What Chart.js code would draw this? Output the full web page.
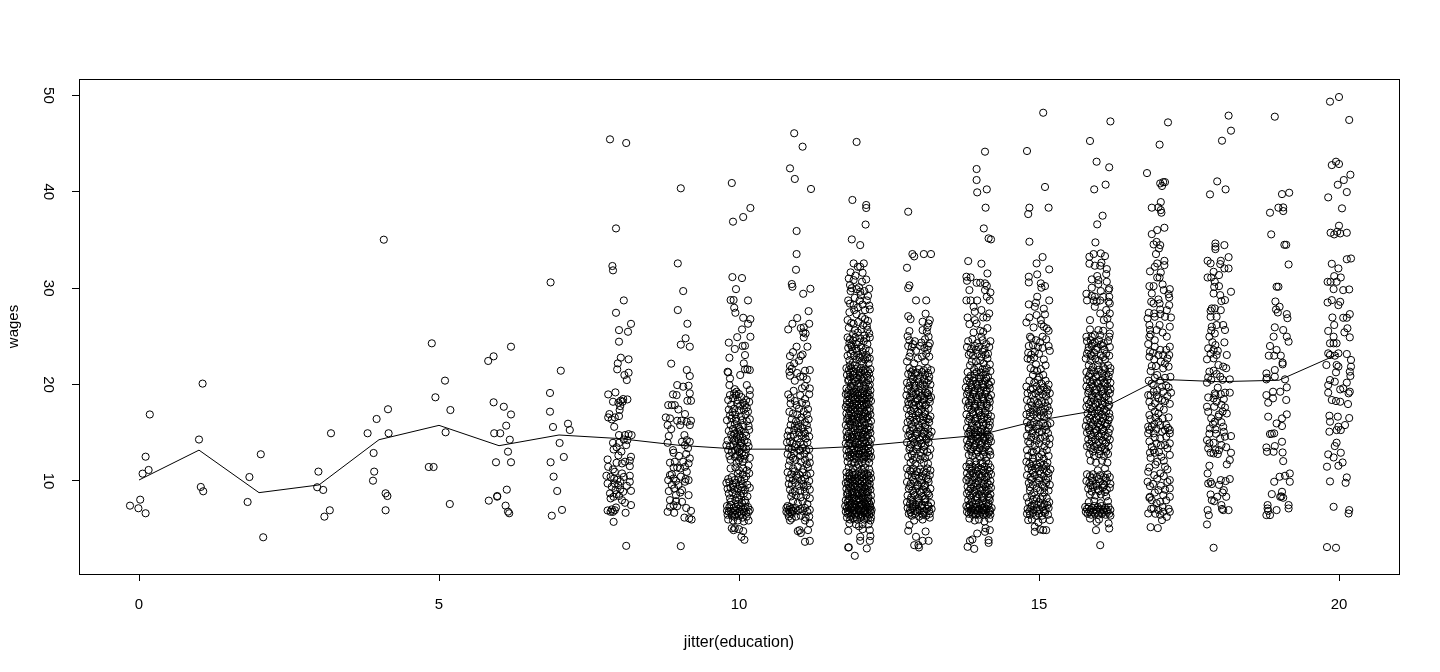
<!DOCTYPE html>
<html>
<head>
<meta charset="utf-8">
<style>
  html, body { margin: 0; padding: 0; background: #fff; }
  canvas { display: block; }
</style>
<script src="https://cdn.jsdelivr.net/npm/chart.js@4"></script>
</head>
<body>
<canvas id="wagesChart" width="1440" height="672"></canvas>
<script>
// jitter(education), wages pairs, one array per education year
const eduLow = [-0.15,7.44, -0.01,7.17, 0.02,8.06, 0.11,6.65, 0.06,10.76, 0.16,11.14, 0.11,12.52, 0.18,16.9,
  1.06,20.1, 1.0,14.3, 1.03,9.38, 1.07,8.93,
  2.03,12.77, 1.84,10.41, 1.81,7.82, 2.07,4.16,
  3.2,14.95, 2.99,10.97, 2.97,9.35, 3.07,9.07, 3.18,6.96, 3.09,6.3,
  4.08,35.03, 4.15,17.44, 3.96,16.43, 3.81,14.95, 4.16,14.95, 3.91,12.9, 3.92,10.97, 3.9,10.03, 4.11,8.72, 4.14,8.44, 4.11,6.96,
  4.88,24.28, 5.1,20.41, 4.94,18.68, 5.19,17.36, 5.11,15.05, 4.83,11.45, 4.91,11.45, 5.18,7.61,
  6.2,23.93, 5.91,22.93, 5.82,22.45, 5.91,18.16, 6.08,17.7, 6.2,16.9, 6.12,15.74, 5.92,14.95, 6.02,14.95, 6.18,14.28, 6.15,13.04, 5.95,11.94, 6.2,11.94, 6.13,9.1, 5.97,8.37, 5.97,8.44, 5.83,7.96, 6.11,7.44, 6.15,6.82, 6.17,6.65,
  6.86,30.6, 7.03,21.44, 6.85,19.13, 6.85,17.19, 7.15,15.94, 6.9,15.6, 7.18,15.29, 7.01,13.94, 7.08,12.49, 6.86,11.94, 6.91,10.45, 6.97,8.96, 7.05,7.0, 6.88,6.4]

const edu8 = [7.85,45.44, 8.12,45.06, 7.95,36.2, 7.89,32.3, 7.9,31.85, 8.08,28.73, 7.95,27.45, 8.2,26.3, 8.0,25.65, 8.15,25.48, 8.0,24.45, 8.03,22.79, 8.16,22.62, 7.98,22.2, 7.97,21.58, 8.16,21.23, 8.09,20.99, 8.13,20.47,
  7.82,18.98, 7.94,19.19, 7.9,18.22, 8.14,18.46, 8.07,18.5, 8.03,18.33, 7.99,18.12, 8.06,18.22, 8.02,17.77, 8.01,17.36, 7.84,16.94, 8.0,16.73, 7.82,16.59, 7.88,16.39, 7.93,16.59, 7.92,15.62, 8.0,14.76, 8.16,14.86, 8.21,14.76, 8.1,14.76, 7.9,13.96, 8.0,13.96, 8.12,13.72, 8.14,14.24, 7.91,13.27,
  7.81,12.23, 7.99,12.65, 8.2,12.51, 8.18,12.1, 7.96,11.89, 8.05,11.82, 7.82,11.47, 8.18,11.54, 7.93,10.95, 8.05,10.78, 8.18,10.54, 7.79,10.54, 7.86,10.43, 7.92,10.26, 8.18,9.92, 7.81,9.74, 7.93,9.74, 7.99,9.57, 7.88,9.4, 8.02,9.12, 8.2,8.98, 8.07,8.88, 7.85,8.71, 7.96,8.64, 7.86,8.19, 7.91,8.36, 8.05,8.01, 8.1,7.74, 8.2,7.5, 7.81,6.94, 7.9,6.8, 7.93,6.97, 7.86,6.8, 8.11,6.7, 7.91,5.76, 8.12,3.27,
  8.02,9.95, 7.97,10.12, 8.08,10.42, 7.9,11.2, 8.1,12.0, 8.04,13.05, 7.96,13.5, 8.08,14.3, 7.94,9.05, 8.0,8.45, 8.13,9.5, 7.88,7.05, 7.95,7.25]

const edu9 = [9.03,40.36, 8.98,32.57, 9.07,29.7, 8.98,27.73, 9.14,26.31, 9.11,24.8, 9.03,24.14, 9.18,23.93, 8.87,22.17, 9.13,21.51, 9.18,20.89, 8.97,19.95, 9.07,19.78, 9.16,19.88, 9.18,19.09, 8.9,18.98, 8.96,18.91, 9.14,18.32, 9.2,18.32, 8.82,17.87, 8.88,17.87, 8.93,17.87, 8.99,17.42, 9.1,16.94, 8.78,16.59, 8.85,16.49, 8.97,16.25, 9.04,16.25, 9.13,16.14, 9.2,16.25, 8.81,15.8, 9.18,15.8, 9.02,15.8, 8.87,15.38, 8.83,14.66, 9.09,14.76, 9.05,14.07, 9.13,14.24, 9.18,14.07, 8.81,13.96, 9.1,13.72, 8.9,13.2, 8.91,12.93, 9.18,12.34, 8.93,11.99, 9.07,11.99, 9.16,11.82, 8.91,11.4, 8.97,11.4, 9.02,11.3, 9.1,11.47, 8.85,10.61, 9.13,10.95, 8.82,10.09, 8.91,10.26, 9.1,9.92, 9.16,10.09, 8.99,9.57, 8.83,8.95, 8.92,9.22, 9.05,9.05, 9.16,8.53, 8.95,8.53, 8.85,8.01, 9.05,7.84, 8.91,7.49, 8.97,7.39, 8.85,7.32, 8.81,6.8, 8.92,6.7, 9.2,6.9, 9.09,6.2, 9.17,6.11, 9.21,6.0, 9.03,3.24,
  8.88,10.7, 8.95,10.0, 9.03,10.45, 9.11,10.2, 8.88,9.6, 9.02,8.8, 8.95,7.9, 9.12,7.2, 9.15,13.4, 9.0,12.6, 9.12,12.8, 8.85,11.9]

const edu10 = [9.88,40.91, 10.19,38.32, 10.07,37.38, 9.9,36.9, 9.89,31.15, 10.05,31.05, 9.95,29.9, 9.86,28.77, 9.91,28.77, 10.15,28.73, 9.92,27.97, 9.94,27.45, 10.07,26.93, 10.19,26.79, 10.15,26.31, 10.05,25.72, 9.97,24.92, 10.19,24.96, 9.83,24.35, 9.93,23.69, 10.1,24.03, 10.06,24.0, 9.84,22.79, 10.1,23.06, 10.08,22.2, 10.14,21.58, 10.18,21.51, 10.1,21.58, 10.02,20.99, 9.81,21.33, 9.82,21.27, 9.85,20.64, 9.84,19.95, 10.13,19.95, 10.18,19.43, 9.96,19.26, 9.92,19.09, 10.0,19.02, 9.85,18.91, 10.18,18.91,
  9.82,18.4, 9.9,18.6, 9.95,18.9, 10.04,18.7, 10.12,18.4, 10.17,18.2, 9.87,17.9, 9.97,18.0, 10.02,17.8, 10.1,17.9, 9.83,17.4, 9.92,17.5, 10.0,17.3, 10.08,17.4, 10.15,17.2, 9.85,16.8, 9.94,16.9, 10.03,16.7, 10.11,16.9, 10.18,16.4, 9.8,16.3, 9.88,16.5, 9.96,16.2, 10.05,16.3, 10.13,16.2, 9.86,15.8, 9.93,15.9, 9.99,15.6, 10.07,15.8, 10.16,15.7, 9.83,15.2, 9.9,15.4, 9.97,15.1, 10.03,15.2, 10.1,15.0, 10.17,15.3,
  9.87,14.8, 9.92,14.9, 9.96,14.6, 10.01,14.8, 10.06,14.5, 10.12,14.7, 9.81,14.2, 9.89,14.4, 9.94,14.1, 9.99,14.3, 10.04,14.0, 10.09,14.2, 10.14,14.0, 9.79,13.7, 9.85,13.6, 9.91,13.8, 9.97,13.5, 10.02,13.7, 10.07,13.5, 10.12,13.3, 10.16,13.6, 9.82,13.2, 9.88,13.0, 9.94,13.2, 10.0,13.0, 10.05,12.9, 10.11,12.8, 9.84,12.6, 9.93,12.5, 10.02,12.4, 9.97,12.7, 10.09,12.3, 10.18,12.4, 9.86,12.2, 9.96,11.9, 10.06,12.0,
  10.16,11.6, 9.86,11.3, 9.94,11.4, 10.0,11.1, 10.07,11.3, 10.13,11.1, 9.98,10.8, 10.06,10.7, 10.12,10.5, 10.17,10.8, 9.82,10.2, 9.88,10.4, 9.93,10.1, 9.99,10.3, 10.03,10.0, 10.09,10.2, 9.79,9.8, 9.84,9.9, 9.9,9.6, 9.95,9.8, 10.01,9.5, 10.06,9.7, 10.14,9.6, 9.81,9.2, 9.86,9.3, 9.92,9.1, 9.98,9.2, 10.04,9.0, 10.1,9.1, 10.18,9.3, 9.83,8.7, 9.89,8.8, 9.95,8.6, 10.02,8.5, 10.08,8.7, 10.14,8.4, 9.85,8.2, 9.94,8.0, 10.0,8.1, 10.1,8.0, 9.98,7.6, 10.05,7.7,
  9.8,7.4, 9.84,7.3, 9.87,7.5, 9.91,7.2, 9.95,7.3, 9.99,7.1, 10.03,7.3, 10.07,7.1, 10.11,7.2, 10.15,7.3, 10.18,7.0, 9.8,6.9, 9.83,6.8, 9.86,6.9, 9.89,6.7, 9.93,6.9, 9.97,6.7, 10.01,6.8, 10.04,6.6, 10.08,6.8, 10.12,6.7, 10.16,6.8, 9.81,6.5, 9.88,6.4, 9.94,6.5, 10.0,6.4, 10.06,6.2, 10.13,6.3, 9.82,6.0, 9.9,5.9, 9.98,5.9, 10.08,5.8, 10.16,5.9, 9.88,5.1, 9.91,4.9, 9.93,5.1, 10.0,5.0, 10.07,4.8, 10.04,4.2, 10.09,3.9,
  9.93,19.52, 9.98,18.37, 10.07,18.13, 9.89,17.13, 10.13,17.62, 9.95,16.45, 10.01,15.38, 9.92,14.27, 10.03,13.92, 9.98,13.28, 10.09,12.63, 10.0,12.14, 9.9,9.42, 10.05,9.33, 9.97,8.27, 10.11,7.76, 9.86,7.83, 9.93,6.28]

const edu11 = [10.92,46.07, 11.06,44.68, 10.85,42.43, 10.93,41.33, 11.2,40.29, 10.96,35.93, 10.96,33.54, 10.95,31.91, 10.88,30.43, 10.89,30.15, 11.19,29.94, 11.07,29.42, 11.16,27.62, 10.97,26.9, 10.89,26.31, 11.17,26.31, 10.82,25.72, 11.03,25.86, 11.08,25.93, 11.07,25.41, 11.11,25.3, 11.08,24.89, 10.96,23.93, 11.14,23.93, 10.85,22.96, 11.03,22.96, 10.92,22.2, 10.85,21.92, 10.84,21.33, 11.1,21.44, 11.18,21.51, 10.85,20.92, 11.02,20.82, 11.07,20.82, 10.93,20.4, 11.1,19.85, 11.18,19.6, 10.82,18.98, 10.96,17.87, 11.12,17.98, 10.84,17.18,
  10.86,18.6, 11.02,18.9, 11.1,18.5, 11.17,19.0, 10.93,18.3, 11.05,18.1, 11.0,17.5, 11.08,17.2, 10.9,17.0, 10.97,16.9, 11.04,16.6, 11.13,16.9, 10.88,16.4, 10.95,16.2, 11.02,16.3, 11.1,16.1, 11.16,16.4, 10.86,15.8, 10.93,15.7, 10.99,15.8, 11.06,15.5, 11.13,15.8, 10.83,15.2, 10.92,15.3, 11.0,15.0, 11.08,15.1, 11.15,15.3, 10.81,14.7, 10.86,14.6, 10.91,14.8, 10.98,14.4, 11.04,14.7, 11.11,14.4, 11.17,14.6, 10.8,14.0, 10.85,14.1, 10.89,13.9, 10.95,13.8, 11.02,14.0, 11.08,13.8, 11.14,14.0, 10.83,13.4, 10.88,13.3, 10.93,13.5, 11.0,13.2, 11.06,13.4, 11.12,13.2, 11.17,13.3, 10.81,12.8, 10.87,12.6, 10.92,12.9, 11.02,12.6, 11.09,12.8, 11.17,12.5, 10.85,12.1, 10.94,12.2, 11.03,12.0, 11.1,12.2, 11.18,11.9,
  10.83,11.6, 10.9,11.3, 10.98,11.5, 11.07,11.2, 11.15,11.4, 10.81,10.9, 10.87,10.7, 10.93,11.0, 11.0,10.7, 11.06,10.9, 11.13,10.6, 11.19,10.8, 10.84,10.3, 10.9,10.1, 10.97,10.3, 11.04,10.1, 11.1,10.2, 11.17,10.0, 10.83,9.7, 10.88,9.6, 10.94,9.8, 11.0,9.5, 11.07,9.7, 11.14,9.5, 10.85,9.1, 10.93,8.9, 11.02,9.0, 11.1,8.9, 11.18,9.1, 10.87,8.4, 10.95,8.5, 11.03,8.3, 11.12,8.5, 11.18,8.2, 10.9,7.9, 10.98,7.7, 11.06,7.9, 11.14,7.6,
  10.79,7.2, 10.81,7.4, 10.83,7.0, 10.85,7.3, 10.87,7.1, 10.89,6.9, 10.79,6.8, 10.82,6.6, 10.85,6.8, 10.88,6.6, 10.91,6.9, 10.94,7.2, 10.98,6.9, 11.02,7.1, 11.06,6.9, 11.1,7.2, 11.14,6.8, 11.18,7.0, 10.83,6.3, 10.88,6.1, 10.95,6.3, 11.03,6.4, 11.11,6.2, 11.17,6.3, 11.18,5.6, 11.1,5.9, 10.85,5.9, 11.15,4.9, 11.01,4.9, 11.03,4.6, 10.98,4.8, 11.1,3.69, 11.18,3.79,
  10.9,23.37, 11.06,23.12, 11.0,22.48, 10.88,21.65, 10.97,21.2, 11.13,20.55, 11.05,19.62, 10.91,19.35, 10.86,18.03, 11.15,17.45, 10.98,15.47, 11.1,14.92, 11.02,13.13, 10.9,12.38, 11.13,11.73, 10.96,10.55, 11.08,9.37, 10.89,8.76]

const edu12 = [11.96,45.17, 11.89,39.15, 12.12,38.63, 12.12,38.32, 12.11,36.6, 11.88,35.06, 12.02,34.47, 11.91,32.57, 12.08,32.57, 11.98,32.22, 12.02,32.22, 11.86,31.64, 11.91,30.84, 12.05,30.67, 11.85,30.32, 12.17,29.94, 11.86,29.7, 11.96,29.9, 12.02,29.63, 12.03,29.28, 11.82,28.73, 12.01,28.73, 12.13,28.73, 11.91,28.25, 11.92,27.73, 12.1,27.73, 12.18,27.8, 11.81,26.69, 12.1,26.79, 11.91,26.31, 12.07,26.17, 11.93,25.65, 12.04,25.72, 12.17,25.3, 11.81,24.89, 12.02,24.79, 12.18,24.89,
  11.84,24.3, 11.9,24.6, 11.96,24.2, 12.08,24.5, 12.14,24.2, 11.82,23.8, 11.88,23.9, 11.97,23.5, 12.03,23.9, 12.11,23.7, 12.17,23.5, 11.81,23.0, 11.86,23.2, 11.92,23.0, 11.99,23.1, 12.06,22.9, 12.12,23.1, 11.84,22.5, 11.9,22.3, 11.96,22.6, 12.04,22.4, 12.1,22.6, 12.16,22.2,
  11.79,21.7, 11.83,21.5, 11.87,21.7, 11.91,21.4, 11.95,21.6, 11.99,21.4, 12.03,21.7, 12.07,21.5, 12.11,21.6, 12.15,21.4, 12.19,21.6, 11.8,21.0, 11.85,20.8, 11.9,21.0, 11.96,20.7, 12.02,20.9, 12.08,20.7, 12.14,20.9, 12.19,20.6, 11.82,20.4, 11.88,20.2, 11.94,20.3, 12.0,20.1, 12.06,20.4, 12.12,20.2, 12.18,20.0,
  11.79,19.6, 11.83,19.4, 11.87,19.7, 11.91,19.3, 11.95,19.5, 11.99,19.2, 12.03,19.5, 12.07,19.3, 12.11,19.6, 12.15,19.2, 12.19,19.4, 11.78,19.0, 11.82,18.8, 11.86,19.0, 11.9,18.7, 11.94,18.9, 11.98,18.6, 12.02,18.9, 12.06,18.6, 12.1,18.9, 12.14,18.7, 12.18,18.9, 11.8,18.3, 11.84,18.1, 11.88,18.4, 11.92,18.0, 11.96,18.2, 12.0,18.0, 12.04,18.3, 12.08,18.0, 12.12,18.2, 12.16,18.0, 12.2,18.3,
  11.78,17.7, 11.82,17.5, 11.86,17.7, 11.9,17.4, 11.94,17.6, 11.98,17.3, 12.02,17.6, 12.06,17.4, 12.1,17.7, 12.14,17.3, 12.18,17.5, 11.79,17.0, 11.83,16.8, 11.87,17.0, 11.91,16.7, 11.95,16.9, 11.99,16.6, 12.03,16.9, 12.07,16.7, 12.11,17.0, 12.15,16.7, 12.19,16.9, 11.8,16.4, 11.84,16.2, 11.88,16.4, 11.92,16.1, 11.96,16.3, 12.0,16.0, 12.04,16.3, 12.08,16.1, 12.12,16.4, 12.16,16.0, 12.2,16.2,
  11.78,15.8, 11.82,15.6, 11.86,15.8, 11.9,15.5, 11.94,15.7, 11.98,15.4, 12.02,15.7, 12.06,15.5, 12.1,15.8, 12.14,15.4, 12.18,15.6, 11.79,15.1, 11.83,14.9, 11.87,15.1, 11.91,14.8, 11.95,15.0, 11.99,14.7, 12.03,15.0, 12.07,14.8, 12.11,15.1, 12.15,14.8, 12.19,15.0, 11.8,14.5, 11.84,14.3, 11.88,14.5, 11.92,14.2, 11.96,14.4, 12.0,14.1, 12.04,14.4, 12.08,14.2, 12.12,14.5, 12.16,14.1, 12.2,14.3,
  11.78,13.9, 11.82,13.7, 11.86,13.9, 11.9,13.6, 11.94,13.8, 11.98,13.5, 12.02,13.8, 12.06,13.6, 12.1,13.9, 12.14,13.6, 12.18,13.8, 11.79,13.2, 11.83,13.0, 11.87,13.2, 11.91,12.9, 11.95,13.1, 11.99,12.8, 12.03,13.1, 12.07,12.9, 12.11,13.2, 12.15,12.9, 12.19,13.1, 11.8,12.6, 11.84,12.4, 11.88,12.6, 11.92,12.3, 11.96,12.5, 12.0,12.2, 12.04,12.5, 12.08,12.3, 12.12,12.6, 12.16,12.3, 12.2,12.5,
  11.81,12.0, 11.87,11.8, 11.93,11.9, 11.99,11.7, 12.05,11.9, 12.11,11.8, 12.17,11.9, 11.83,11.4, 11.9,11.3, 11.97,11.4, 12.04,11.2, 12.1,11.4, 12.17,11.2, 11.79,10.9, 11.84,10.8, 11.89,10.9, 11.94,10.7, 11.99,10.9, 12.04,10.7, 12.09,10.9, 12.14,10.7, 12.19,10.8, 11.8,10.4, 11.84,10.2, 11.88,10.4, 11.93,10.1, 11.97,10.3, 12.01,10.1, 12.05,10.4, 12.09,10.2, 12.13,10.4, 12.17,10.1, 12.2,10.3,
  11.78,9.8, 11.82,9.6, 11.86,9.8, 11.9,9.5, 11.94,9.7, 11.98,9.4, 12.02,9.7, 12.06,9.5, 12.1,9.8, 12.14,9.5, 12.18,9.7, 11.79,9.2, 11.83,9.0, 11.87,9.2, 11.91,8.9, 11.95,9.1, 11.99,8.8, 12.03,9.1, 12.07,8.9, 12.11,9.2, 12.15,8.9, 12.19,9.1, 11.8,8.6, 11.84,8.4, 11.88,8.6, 11.92,8.3, 11.96,8.5, 12.0,8.2, 12.04,8.5, 12.08,8.3, 12.12,8.6, 12.16,8.3, 12.2,8.5,
  11.78,8.0, 11.81,7.8, 11.84,8.0, 11.87,7.7, 11.9,7.9, 11.93,7.6, 11.96,7.9, 11.99,7.7, 12.02,8.0, 12.05,7.6, 12.08,7.8, 12.11,7.6, 12.14,7.9, 12.17,7.7, 12.2,7.9, 11.77,7.4, 11.8,7.2, 11.83,7.4, 11.86,7.1, 11.89,7.3, 11.92,7.0, 11.95,7.3, 11.98,7.1, 12.01,7.4, 12.04,7.0, 12.07,7.2, 12.1,7.0, 12.13,7.3, 12.16,7.1, 12.19,7.3, 12.21,7.0, 11.78,6.8, 11.81,6.6, 11.84,6.8, 11.87,6.5, 11.9,6.7, 11.93,6.5, 11.96,6.7, 11.99,6.5, 12.02,6.8, 12.05,6.5, 12.08,6.7, 12.11,6.5, 12.14,6.7, 12.17,6.5, 12.2,6.7,
  11.8,6.2, 11.85,6.0, 11.9,6.1, 11.97,6.0, 12.03,6.2, 12.09,6.0, 12.15,6.1, 12.19,5.9, 11.84,5.6, 11.95,5.5, 12.0,5.3, 12.06,5.5, 12.16,5.5, 11.82,4.83, 12.02,4.21, 12.18,4.9, 12.19,4.28, 12.18,3.79, 12.02,3.79, 12.06,5.0, 11.82,3.1, 11.83,3.12, 12.13,3.0, 11.93,2.24,
  11.83,31.0, 11.94,31.3, 12.06,31.6, 12.12,30.9, 12.0,30.1, 11.88,30.0, 12.09,29.7, 12.15,29.2, 11.93,29.0, 11.85,28.4, 12.06,28.3, 11.98,28.0, 12.17,28.2, 11.84,27.5, 11.96,27.3, 12.05,27.0, 12.15,26.6, 11.87,26.4, 11.99,26.5, 12.13,26.1, 11.83,25.9, 11.9,25.2, 11.98,25.4, 12.09,25.1, 12.14,25.7, 11.85,24.7, 11.94,24.9, 12.0,24.4, 12.12,24.8, 11.87,24.1, 11.95,23.7, 12.06,23.4, 11.89,23.5, 12.01,22.8, 12.14,22.8, 11.93,22.0, 12.07,22.1, 11.85,22.0, 12.18,22.7,
  11.85,21.25, 11.93,21.15, 12.01,21.2, 12.09,21.25, 12.17,21.15, 11.83,20.5, 11.91,20.55, 11.99,20.6, 12.05,20.55, 12.15,20.45, 11.86,19.85, 11.92,19.9, 12.0,19.8, 12.08,19.9, 12.16,19.8, 11.81,19.1, 11.89,19.15, 11.97,19.05, 12.05,19.1, 12.13,19.05, 11.84,18.55, 11.93,18.45, 12.01,18.5, 12.09,18.45, 12.17,18.55, 11.8,17.95, 11.89,17.85, 11.97,17.9, 12.05,17.85, 12.13,17.95, 11.85,17.25, 11.93,17.15, 12.01,17.2, 12.09,17.15, 12.17,17.25, 11.82,16.55, 11.9,16.45, 11.98,16.55, 12.06,16.45, 12.14,16.55,
  11.85,15.95, 11.93,15.25, 12.01,15.35, 12.09,15.25, 12.17,15.3, 11.81,14.65, 11.89,14.6, 11.97,14.65, 12.05,14.55, 12.13,14.65, 11.84,13.95, 11.92,13.35, 12.0,13.4, 12.08,13.35, 12.16,13.4, 11.85,12.75, 11.93,12.7, 12.01,12.75, 12.09,12.65, 12.17,12.7, 11.84,10.55, 11.92,10.6, 12.0,10.5, 12.08,10.6, 12.16,10.55, 11.81,9.95, 11.89,10.0, 11.97,9.95, 12.05,10.0, 12.13,9.9, 11.85,9.35, 11.93,9.4, 12.01,9.3, 12.09,9.35, 12.17,9.4, 11.81,8.75, 11.89,8.8, 11.97,8.7, 12.05,8.75, 12.13,8.8, 11.83,8.15, 11.91,8.2, 11.99,8.1, 12.07,8.15, 12.15,8.2, 11.85,7.55, 11.94,7.5, 12.03,7.55, 12.12,7.45, 12.18,7.5, 11.82,6.95, 11.91,6.9, 12.0,6.95, 12.09,6.85, 12.18,6.95, 11.86,6.35, 11.95,6.25, 12.04,6.35, 12.13,6.3, 12.2,6.2]

const edu13 = [12.82,37.93, 12.89,33.54, 12.92,33.3, 13.08,33.54, 13.2,33.54, 12.8,32.12, 12.84,30.29, 12.82,30.01, 12.95,28.73, 13.12,28.73, 12.82,27.1, 12.86,26.79, 13.11,27.35, 13.18,26.69, 13.06,26.52, 13.16,26.34, 13.14,25.93, 13.06,25.65, 13.13,25.48, 12.84,25.55, 12.81,25.03, 13.16,24.96,
  12.84,24.6, 12.93,24.5, 13.1,24.7, 13.18,24.3, 12.82,24.0, 12.88,23.9, 13.02,24.0, 13.09,23.8, 13.16,24.0, 12.86,23.3, 12.95,23.5, 13.12,23.2, 12.8,22.4, 12.98,22.7, 13.05,22.9, 12.84,21.7, 12.9,21.5, 13.0,21.6, 13.08,21.5, 13.14,21.7, 13.2,21.5, 12.82,21.1, 12.88,20.9, 12.94,21.1, 13.02,20.8, 13.1,21.0, 13.17,20.8, 12.8,20.2, 12.86,20.3, 12.92,20.1, 12.99,20.3, 13.06,20.0, 13.13,20.2, 13.19,20.0,
  12.81,19.5, 12.87,19.3, 12.93,19.6, 12.99,19.2, 13.05,19.5, 13.11,19.2, 13.17,19.4, 12.79,18.9, 12.85,18.7, 12.91,18.9, 12.97,18.6, 13.03,18.8, 13.09,18.6, 13.15,18.9, 13.2,18.7, 12.82,18.2, 12.88,18.0, 12.94,18.2, 13.0,17.9, 13.06,18.1, 13.12,17.9, 13.18,18.2, 12.8,17.5, 12.86,17.3, 12.92,17.5, 12.98,17.2, 13.04,17.4, 13.1,17.2, 13.16,17.5,
  12.83,16.8, 12.89,16.6, 12.95,16.8, 13.01,16.5, 13.07,16.7, 13.13,16.5, 13.19,16.7, 12.81,16.1, 12.87,15.9, 12.93,16.1, 12.99,15.8, 13.05,16.0, 13.11,15.8, 13.17,16.1, 12.79,15.4, 12.85,15.2, 12.91,15.4, 12.97,15.1, 13.03,15.3, 13.09,15.1, 13.15,15.4, 13.21,15.1,
  12.82,14.7, 12.88,14.5, 12.94,14.7, 13.0,14.4, 13.06,14.6, 13.12,14.4, 13.18,14.7, 12.8,14.0, 12.86,13.8, 12.92,14.0, 12.98,13.7, 13.04,13.9, 13.1,13.7, 13.16,14.0, 12.84,13.3, 12.9,13.1, 12.96,13.3, 13.02,13.0, 13.08,13.2, 13.14,13.0, 13.19,13.3, 12.82,12.5, 12.88,12.7, 12.96,12.4, 13.03,12.6, 13.1,12.4, 13.17,12.6, 12.86,11.9, 12.94,11.8, 13.08,11.9, 13.15,11.8,
  12.8,11.3, 12.85,11.1, 12.9,11.3, 12.96,11.0, 13.02,11.2, 13.08,11.0, 13.14,11.3, 13.19,11.1, 12.82,10.6, 12.88,10.4, 12.94,10.6, 13.0,10.3, 13.06,10.5, 13.12,10.3, 13.18,10.6, 12.8,9.9, 12.86,9.7, 12.92,9.9, 12.98,9.6, 13.04,9.8, 13.1,9.6, 13.16,9.9, 12.83,9.2, 12.89,9.0, 12.95,9.2, 13.01,8.9, 13.07,9.1, 13.13,8.9, 13.19,9.2, 12.81,8.5, 12.87,8.3, 12.93,8.5, 12.99,8.2, 13.05,8.4, 13.11,8.2, 13.17,8.5,
  12.8,7.8, 12.85,7.6, 12.9,7.8, 12.95,7.5, 13.0,7.7, 13.05,7.5, 13.1,7.8, 13.15,7.5, 13.2,7.7, 12.81,7.2, 12.85,7.0, 12.89,7.2, 12.93,6.9, 12.97,7.1, 13.01,6.9, 13.05,7.2, 13.09,6.9, 13.13,7.1, 13.17,6.9, 13.21,7.1, 12.83,6.6, 12.88,6.4, 12.94,6.6, 13.0,6.3, 13.06,6.5, 13.12,6.4, 13.18,6.6, 12.92,5.9, 13.06,6.0,
  12.84,5.42, 12.82,4.83, 13.11,4.76, 12.95,4.21, 13.16,3.79, 13.06,3.79, 12.92,3.34, 12.99,3.34, 13.0,3.1,
  12.9,24.2, 13.04,24.35, 13.14,23.6, 12.84,22.9, 12.92,22.2, 13.1,22.4, 13.17,22.9, 12.87,21.3, 12.96,21.25, 13.05,21.3, 13.15,21.2, 12.9,20.55, 12.97,20.6, 13.09,20.55, 13.16,20.45, 12.84,19.85, 12.93,19.9, 13.02,19.85, 13.1,19.8, 12.88,19.1, 12.95,19.05, 13.05,18.9, 13.14,19.1, 12.86,18.45, 12.98,18.4, 13.08,18.4, 13.17,18.5, 12.83,17.9, 12.92,17.85, 13.01,17.8, 13.1,17.8, 12.89,17.0, 13.0,17.05, 13.1,16.95, 12.85,16.35, 12.96,16.35, 13.07,16.3, 13.16,16.4, 12.88,15.6, 13.0,15.55, 13.1,15.6, 12.85,14.85, 12.96,14.9, 13.08,14.9, 13.15,14.85, 12.9,14.3, 13.02,14.25, 13.13,14.3, 12.85,13.5, 12.97,13.5, 13.08,13.55, 12.9,12.2, 13.02,12.2, 12.87,10.95, 13.0,10.9, 13.12,10.85, 12.9,10.15, 13.04,10.1, 13.15,10.2, 12.85,9.45, 12.97,9.45, 13.1,9.45, 12.91,8.75, 13.04,8.75, 13.15,8.7, 12.86,8.05, 12.98,8.0, 13.1,8.1, 12.9,7.35, 13.03,7.35, 13.16,7.35, 12.86,6.75, 12.97,6.8, 13.08,6.75, 13.18,6.2]

const edu14 = [14.1,44.16, 13.96,42.36, 13.96,41.22, 13.97,39.94, 14.13,40.25, 14.11,38.35, 14.08,36.2, 14.16,35.17, 14.2,35.06, 13.82,32.81, 14.04,32.54, 14.14,31.53, 13.79,31.19, 13.86,31.12, 13.8,30.77, 13.96,30.56, 14.02,30.56, 14.1,30.5, 14.13,30.25, 14.1,29.8, 13.84,29.8, 14.19,29.56, 14.13,29.11, 13.79,28.73, 13.86,28.73, 13.97,28.73, 14.18,28.73, 13.91,28.07, 13.93,27.55, 14.04,27.73, 14.17,27.38, 13.81,26.96, 14.07,26.96, 14.13,26.96, 13.93,26.69, 13.84,26.27, 13.96,26.34, 14.14,25.86, 13.91,25.41, 14.02,25.58, 14.07,25.48, 14.04,24.96,
  13.82,24.5, 13.89,24.7, 13.97,24.3, 14.06,24.6, 14.12,24.2, 14.19,24.5, 13.8,23.9, 13.87,23.7, 13.93,24.0, 14.0,23.9, 14.09,23.7, 14.17,23.9, 13.83,23.1, 13.9,23.0, 13.98,23.2, 14.04,22.9, 14.11,23.1, 13.95,22.4, 14.02,22.5, 14.14,22.7, 13.85,22.0, 13.92,21.6, 13.99,21.8, 14.06,21.6, 14.13,21.7, 14.19,21.4, 13.81,21.3, 13.86,20.9, 13.93,21.1, 14.0,20.8, 14.07,21.0, 14.15,20.8,
  13.8,20.4, 13.85,20.2, 13.9,20.4, 13.95,20.1, 14.0,20.3, 14.05,20.1, 14.1,20.4, 14.15,20.1, 14.2,20.3, 13.78,19.7, 13.83,19.5, 13.88,19.7, 13.93,19.4, 13.98,19.6, 14.03,19.4, 14.08,19.7, 14.13,19.4, 14.18,19.6, 13.8,19.0, 13.85,18.8, 13.9,19.0, 13.95,18.7, 14.0,18.9, 14.05,18.7, 14.1,19.0, 14.15,18.7, 14.2,18.9, 13.78,18.3, 13.83,18.1, 13.88,18.3, 13.93,18.0, 13.98,18.2, 14.03,18.0, 14.08,18.3, 14.13,18.0, 14.18,18.2,
  13.81,17.6, 13.87,17.4, 13.93,17.6, 13.99,17.3, 14.05,17.5, 14.11,17.3, 14.17,17.6, 13.79,16.9, 13.85,16.7, 13.91,16.9, 13.97,16.6, 14.03,16.8, 14.09,16.6, 14.15,16.9, 14.2,16.7, 13.82,16.2, 13.88,16.0, 13.94,16.2, 14.0,15.9, 14.06,16.1, 14.12,15.9, 14.18,16.2, 13.8,15.5, 13.86,15.3, 13.92,15.5, 13.98,15.2, 14.04,15.4, 14.1,15.2, 14.16,15.5,
  13.82,14.9, 13.86,14.7, 13.9,14.9, 13.94,14.6, 13.98,14.8, 14.02,14.6, 14.06,14.9, 14.1,14.6, 14.14,14.8, 14.18,14.6, 13.8,14.2, 13.85,14.0, 13.9,14.2, 13.95,13.9, 14.0,14.1, 14.05,13.9, 14.1,14.2, 14.15,13.9, 14.2,14.1, 13.81,13.5, 13.86,13.3, 13.91,13.5, 13.96,13.2, 14.01,13.4, 14.06,13.2, 14.11,13.5, 14.16,13.2, 13.83,12.7, 13.89,12.6, 13.95,12.8, 14.01,12.5, 14.07,12.7, 14.13,12.5, 14.19,12.7, 13.85,12.0, 13.94,12.0, 14.03,11.9, 14.12,12.1,
  13.79,11.5, 13.84,11.3, 13.89,11.5, 13.94,11.2, 13.99,11.4, 14.04,11.2, 14.09,11.5, 14.14,11.2, 14.19,11.4, 13.8,10.8, 13.85,10.6, 13.9,10.8, 13.95,10.5, 14.0,10.7, 14.05,10.5, 14.1,10.8, 14.15,10.5, 14.2,10.7, 13.79,10.1, 13.84,9.9, 13.89,10.1, 13.94,9.8, 13.99,10.0, 14.04,9.8, 14.09,10.1, 14.14,9.8, 14.19,10.0, 13.81,9.4, 13.86,9.2, 13.91,9.4, 13.96,9.1, 14.01,9.3, 14.06,9.1, 14.11,9.4, 14.16,9.1, 14.2,9.3, 13.8,8.7, 13.85,8.5, 13.9,8.7, 13.95,8.4, 14.0,8.6, 14.05,8.4, 14.1,8.7, 14.15,8.4, 14.19,8.6, 13.82,8.0, 13.88,7.8, 13.94,8.0, 14.0,7.7, 14.06,7.9, 14.12,7.7, 14.18,8.0,
  13.79,7.4, 13.82,7.2, 13.85,7.4, 13.88,7.1, 13.91,7.3, 13.94,7.0, 13.97,7.3, 14.0,7.1, 14.03,7.4, 14.06,7.0, 14.09,7.3, 14.12,7.1, 14.15,7.4, 14.18,7.0, 14.21,7.2, 13.8,6.8, 13.83,6.6, 13.86,6.8, 13.89,6.5, 13.92,6.7, 13.95,6.5, 13.98,6.7, 14.01,6.5, 14.04,6.8, 14.07,6.5, 14.1,6.7, 14.13,6.5, 14.16,6.7, 14.19,6.5, 13.84,6.1, 13.93,5.9, 14.0,6.0, 14.09,5.8, 14.17,6.1,
  14.18,4.9, 14.1,4.73, 13.97,4.55, 14.16,3.86, 13.89,3.93, 13.85,3.79, 13.81,3.17, 13.92,2.96, 14.16,3.58, 14.11,5.1,
  13.86,23.3, 13.95,23.6, 14.06,23.4, 14.15,23.2, 13.88,22.4, 14.08,22.2, 14.18,22.1, 13.96,21.3, 14.03,21.25, 14.11,21.3, 13.83,20.65, 13.92,20.7, 14.02,20.6, 14.12,20.65, 13.87,19.95, 13.97,19.9, 14.07,20.0, 14.17,19.95, 13.82,19.25, 13.92,19.2, 14.02,19.2, 14.12,19.25, 13.87,18.5, 13.97,18.45, 14.07,18.5, 14.17,18.5, 13.84,17.85, 13.93,17.8, 14.03,17.8, 14.13,17.8, 13.9,17.1, 14.0,17.1, 14.1,17.05, 13.84,16.45, 13.94,16.5, 14.04,16.4, 14.14,16.45, 13.88,15.75, 13.97,15.7, 14.07,15.75, 14.18,15.8, 13.84,15.1, 13.93,15.05, 14.03,15.1, 14.13,15.1, 13.87,14.35, 13.97,14.4, 14.07,14.4, 14.17,14.35, 13.83,13.75, 13.93,13.7, 14.03,13.75, 14.13,13.7, 13.87,13.05, 13.98,13.0, 14.09,13.0, 14.18,13.05, 13.84,11.75, 13.95,11.7, 14.06,11.8, 14.16,11.75, 13.87,11.05, 13.97,11.0, 14.07,11.05, 14.17,11.0, 13.82,10.35, 13.92,10.4, 14.02,10.35, 14.12,10.4, 13.87,9.65, 13.97,9.6, 14.07,9.65, 14.17,9.6, 13.83,8.95, 13.93,8.9, 14.03,8.95, 14.13,8.95, 13.87,8.25, 13.97,8.2, 14.07,8.25, 14.17,8.25, 13.84,7.55, 13.95,7.6, 14.06,7.55, 14.16,7.6, 13.87,6.95, 13.98,6.9, 14.08,6.95, 14.18,6.85]

const edu15 = [15.07,48.2, 14.8,44.23, 15.1,40.5, 14.84,38.35, 15.16,38.35, 14.82,37.69, 14.84,34.82, 15.06,33.23, 14.96,32.57, 15.17,31.95, 14.97,31.43, 14.83,31.19, 14.83,30.6, 15.03,30.5, 15.1,30.22, 15.04,30.05, 14.97,29.11, 15.17,28.73, 14.95,28.49, 14.83,28.32, 14.93,28.07, 15.08,27.87, 14.96,27.21, 14.84,26.96, 15.1,27.28, 15.03,26.69, 14.79,26.45, 15.04,26.27, 14.91,25.93, 15.08,26.0, 15.13,25.83, 15.16,25.58, 14.85,24.96, 15.06,24.96,
  14.87,24.8, 14.95,24.6, 15.02,24.4, 15.12,24.7, 14.83,24.0, 14.9,24.1, 14.98,23.9, 15.06,23.8, 15.16,24.0, 14.82,23.3, 14.87,23.1, 14.93,23.4, 15.0,23.2, 15.18,23.5, 14.81,22.7, 14.86,22.6, 14.92,22.8, 15.08,22.6, 14.95,22.1, 15.11,22.0, 14.86,21.7, 14.92,21.5, 14.97,21.4, 15.03,21.6, 14.9,21.0, 15.0,20.8, 15.07,21.0,
  14.84,20.4, 14.92,20.2, 14.98,20.5, 15.04,20.1, 15.11,20.4, 15.16,20.0, 14.79,19.8, 14.9,19.6, 14.96,19.8, 15.02,19.5, 15.08,19.7, 15.14,19.5, 14.81,19.1, 14.88,18.9, 14.94,19.1, 15.0,18.8, 15.06,19.0, 15.12,18.8, 15.18,19.1, 14.8,18.4, 14.86,18.2, 14.92,18.4, 14.98,18.1, 15.04,18.3, 15.1,18.1, 15.16,18.3, 14.82,17.6, 14.9,17.4, 14.96,17.6, 15.03,17.3, 15.1,17.5, 15.17,17.3,
  14.79,16.9, 14.85,16.7, 14.91,16.9, 14.97,16.6, 15.03,16.8, 15.09,16.6, 15.15,16.9, 14.8,16.1, 14.86,15.9, 14.92,16.1, 15.0,15.8, 15.07,16.0, 15.14,15.8, 15.19,16.0, 14.83,15.4, 14.9,15.2, 14.97,15.4, 15.05,15.1, 15.12,15.3, 14.8,14.7, 14.87,14.5, 14.94,14.7, 15.02,14.4, 15.1,14.6, 15.18,14.4, 14.85,13.9, 14.93,13.7, 15.0,13.9, 15.09,13.6, 15.17,13.8, 14.8,13.2, 14.88,13.0, 14.96,13.2, 15.06,13.0, 15.13,13.2,
  14.82,12.6, 14.9,12.4, 15.0,12.5, 15.08,12.3, 15.16,12.6, 14.79,12.0, 14.84,11.8, 14.9,12.0, 14.96,11.7, 15.02,11.9, 15.08,11.7, 15.14,11.9, 14.82,11.3, 14.88,11.1, 14.94,11.3, 15.0,11.0, 15.07,11.2, 15.13,11.0, 15.19,11.2, 14.8,10.6, 14.86,10.4, 14.93,10.6, 15.0,10.3, 15.08,10.5, 15.15,10.3, 14.83,9.8, 14.9,9.6, 14.97,9.8, 15.05,9.6, 15.12,9.8, 15.18,9.6, 14.85,9.0, 14.92,8.8, 15.02,9.0, 15.09,8.8, 15.16,9.0, 14.8,8.3, 14.88,8.5, 14.96,8.2, 15.06,8.4, 15.13,8.2, 14.83,7.8, 14.92,7.6, 15.0,7.8, 15.09,7.6, 15.17,7.8,
  14.81,7.1, 14.86,7.3, 14.91,7.0, 14.96,7.2, 15.01,7.0, 15.06,7.3, 15.11,7.0, 15.16,7.2, 14.8,6.6, 14.85,6.5, 14.9,6.7, 14.95,6.4, 15.0,6.6, 15.05,6.4, 15.1,6.7, 15.15,6.5, 15.18,5.94, 14.93,5.25, 14.82,5.94, 14.93,4.73, 15.02,4.97, 15.07,4.9, 15.12,4.9, 14.99,5.7, 15.06,6.0, 14.88,6.0,
  14.86,19.45, 15.0,19.3, 15.12,19.25, 14.88,17.85, 15.0,17.95, 15.14,17.75, 14.85,17.1, 14.97,17.15, 15.08,17.1, 14.83,15.55, 14.95,15.65, 15.1,15.7, 14.88,14.95, 15.0,15.05, 15.15,14.95, 14.82,14.1, 14.96,14.2, 15.12,14.1, 14.91,12.95, 15.04,12.75, 14.87,11.55, 15.0,11.45, 15.12,11.5, 14.9,10.85, 15.03,10.75, 15.16,10.8, 14.87,10.15, 15.0,10.05, 15.12,10.1, 14.85,9.35, 14.96,9.25, 15.09,9.3, 14.9,8.05, 15.03,8.1, 14.88,7.45, 15.03,7.55, 15.14,7.5, 14.84,6.85, 14.97,6.85, 15.08,6.85]

const edu16 = [16.19,47.3, 15.85,45.27, 15.96,43.12, 16.17,42.54, 15.92,40.25, 16.11,40.74, 16.06,37.52, 15.97,36.62, 15.94,34.75, 15.84,33.26, 15.91,33.54, 16.03,33.61, 16.1,33.33, 15.84,32.54, 15.93,32.33, 16.02,32.33, 16.04,32.64, 16.13,31.98, 16.12,31.46, 15.97,31.26, 15.99,30.84, 15.88,30.91, 16.13,30.67, 15.99,30.43, 15.88,30.05, 16.17,29.98, 16.16,29.8, 16.03,29.7, 15.79,29.42, 15.88,29.21, 16.17,29.11, 15.93,29.11, 16.07,29.11, 15.8,28.73, 15.91,28.73, 15.96,28.59, 16.02,28.73, 16.16,28.59, 16.18,28.42, 15.93,28.07, 16.02,27.38, 16.12,27.73, 16.18,27.38, 16.08,26.69, 15.85,26.69, 16.14,26.86, 16.18,26.17, 15.85,25.72, 15.99,25.65, 16.07,25.58, 16.18,25.3, 15.79,24.96, 15.88,24.96, 15.93,25.13, 16.02,25.13, 16.17,24.96,
  15.8,24.5, 15.86,24.6, 15.93,24.4, 16.0,24.6, 16.08,24.3, 16.15,24.5, 15.83,23.9, 15.88,24.0, 15.97,23.8, 16.06,24.0, 16.18,23.9, 15.8,23.2, 15.86,23.1, 15.92,23.3, 16.03,23.0, 16.12,23.2, 16.17,23.0, 15.78,22.7, 15.86,22.5, 15.94,22.7, 16.0,22.5, 16.1,22.6, 15.83,22.0, 15.9,21.8, 15.98,22.0, 16.07,21.8, 16.15,22.0, 16.19,21.7, 15.79,21.3, 15.85,21.1, 15.92,21.3, 15.98,21.0, 16.05,21.2, 16.12,21.0, 16.18,21.3,
  15.8,20.5, 15.85,20.3, 15.9,20.5, 15.96,20.2, 16.02,20.4, 16.08,20.2, 16.14,20.5, 16.19,20.2, 15.79,19.8, 15.84,19.6, 15.9,19.8, 15.96,19.5, 16.02,19.7, 16.08,19.5, 16.14,19.8, 16.19,19.5, 15.82,19.1, 15.88,18.9, 15.94,19.1, 16.0,18.8, 16.06,19.0, 16.12,18.8, 16.18,19.1, 15.8,18.4, 15.86,18.2, 15.92,18.4, 15.98,18.1, 16.04,18.3, 16.1,18.1, 16.16,18.4,
  15.79,17.7, 15.85,17.5, 15.91,17.7, 15.97,17.4, 16.03,17.6, 16.09,17.4, 16.15,17.7, 15.81,17.0, 15.87,16.8, 15.93,17.0, 15.99,16.7, 16.05,16.9, 16.11,16.7, 16.17,17.0, 15.8,16.3, 15.86,16.1, 15.92,16.3, 15.98,16.0, 16.04,16.2, 16.1,16.0, 16.16,16.3, 15.78,15.7, 15.83,15.5, 15.88,15.7, 15.94,15.4, 16.0,15.6, 16.06,15.4, 16.12,15.7, 16.18,15.4, 15.8,15.0, 15.86,14.8, 15.92,15.0, 15.98,14.7, 16.04,14.9, 16.1,14.7, 16.16,15.0,
  15.82,14.3, 15.88,14.1, 15.94,14.3, 16.0,14.0, 16.06,14.2, 16.12,14.0, 16.18,14.3, 15.8,13.6, 15.86,13.4, 15.92,13.6, 15.98,13.3, 16.04,13.5, 16.1,13.3, 16.16,13.6, 15.84,12.8, 15.92,12.6, 16.0,12.8, 16.08,12.6, 16.15,12.8, 15.86,12.1, 15.95,11.9, 16.05,12.1, 16.14,11.9, 15.98,11.1, 16.1,11.3,
  15.8,10.7, 15.85,10.5, 15.9,10.7, 15.96,10.4, 16.02,10.6, 16.08,10.4, 16.14,10.7, 16.18,10.4, 15.79,10.0, 15.84,9.8, 15.89,10.0, 15.95,9.7, 16.01,9.9, 16.07,9.7, 16.13,10.0, 16.19,9.7, 15.82,9.2, 15.9,9.4, 15.98,9.1, 16.06,9.3, 16.13,9.1, 16.18,9.3, 15.85,8.6, 15.94,8.5, 16.03,8.6, 16.12,8.4, 15.83,7.8, 15.92,7.9, 16.02,7.7, 16.15,7.9,
  15.77,7.3, 15.8,7.1, 15.83,7.3, 15.86,7.0, 15.89,7.2, 15.92,7.4, 15.95,7.0, 15.98,7.3, 16.01,7.1, 16.04,7.4, 16.07,7.0, 16.1,7.2, 16.13,7.0, 16.16,7.3, 16.19,7.0, 15.78,6.8, 15.81,6.6, 15.84,6.8, 15.87,6.5, 15.9,6.8, 15.93,6.6, 15.96,6.8, 15.99,6.5, 16.02,6.8, 16.05,6.6, 16.08,6.8, 16.11,6.5, 16.14,6.8, 16.17,6.6, 16.19,6.4, 15.85,6.1, 15.96,5.76, 16.0,6.0, 16.17,5.07, 16.16,5.6, 15.95,4.9, 16.02,3.34,
  15.89,24.25, 16.03,24.15, 15.82,23.55, 15.95,23.6, 16.09,23.65, 15.88,22.95, 16.07,22.85, 16.0,21.55, 15.87,21.5, 16.1,21.6, 15.83,20.85, 15.95,20.8, 16.06,20.75, 16.16,20.85, 15.88,20.05, 15.98,20.1, 16.1,20.1, 15.83,19.35, 15.93,19.4, 16.05,19.3, 16.15,19.35, 15.88,18.65, 15.98,18.6, 16.09,18.65, 15.83,17.95, 15.94,17.95, 16.06,17.9, 16.17,17.9, 15.88,17.2, 16.0,17.25, 16.12,17.2, 15.84,16.55, 15.96,16.5, 16.07,16.5, 16.18,16.6, 15.9,15.85, 16.02,15.8, 16.14,15.9, 15.84,15.25, 15.96,15.2, 16.08,15.2, 15.88,14.55, 16.01,14.6, 16.14,14.55, 15.84,13.85, 15.97,13.8, 16.1,13.85, 15.9,13.05, 16.02,13.1, 16.12,13.05, 15.88,10.3, 16.0,10.2, 16.11,10.3, 15.86,9.55, 15.96,9.5, 16.09,9.55, 15.88,8.9, 16.0,8.95, 16.1,8.85]

const edu17 = [17.15,47.2, 17.01,44.89, 16.8,41.94, 17.02,40.87, 17.07,41.0, 17.1,41.0, 17.05,40.6, 17.03,38.93, 16.88,38.35, 16.99,38.38, 17.03,38.1, 17.04,37.83, 17.09,36.27, 16.97,36.03, 16.88,35.61, 16.96,34.8, 16.91,34.54, 17.02,34.47, 17.0,34.12, 16.95,33.54, 17.09,32.84, 16.97,32.57, 17.09,32.39, 16.93,32.22, 16.85,31.74, 17.03,31.63, 16.97,31.11, 17.01,31.11, 16.84,30.21, 16.91,30.21, 17.06,30.39, 17.18,29.9, 17.08,29.8, 16.88,29.45, 17.16,29.38, 17.17,29.04, 16.99,28.83, 16.87,28.59, 16.91,28.42, 17.01,28.42, 17.17,28.24, 17.02,27.79, 17.13,27.72, 16.83,27.45, 16.92,27.38, 17.02,27.31, 16.81,26.86, 16.93,27.03, 17.1,27.03, 17.2,26.96,
  16.84,26.18, 17.01,26.18, 17.18,26.0, 16.85,25.66, 16.84,24.97, 16.96,25.66, 17.13,24.97, 16.82,24.2, 16.93,23.93, 17.18,23.93, 16.85,23.41, 16.99,23.07, 17.07,23.07, 17.17,23.07, 16.88,21.92, 16.95,21.92, 17.1,22.2, 17.16,21.86, 17.07,21.68, 16.97,20.99, 16.83,20.4, 16.91,19.95, 17.05,19.78, 17.16,19.71, 17.2,19.16, 16.82,18.91, 16.91,19.26, 17.07,19.26, 16.99,18.57, 16.88,17.7, 17.05,18.4, 16.93,18.05, 17.01,17.63, 16.84,16.84, 16.99,16.15, 16.82,15.63, 17.18,15.28, 17.02,15.8, 16.82,14.94, 16.91,14.94, 17.18,14.94, 16.88,15.63, 17.1,15.28, 17.02,14.42, 16.96,13.9, 17.18,13.9, 16.88,13.55, 17.1,13.72, 16.85,12.93, 16.93,12.93, 17.04,12.51, 16.97,12.0, 17.1,11.48, 16.82,10.96, 17.02,10.78, 16.97,10.26, 16.81,9.92, 17.18,10.09, 16.85,9.47, 17.18,9.23, 16.99,9.05, 16.85,8.36, 16.84,8.26, 17.07,8.53, 17.18,8.36, 17.02,7.84, 16.91,7.15, 16.99,6.98, 17.18,6.8, 16.82,6.63, 17.07,6.8, 17.13,6.28, 17.05,5.94, 16.86,5.21, 16.98,5.11,
  16.86,25.2, 16.93,24.6, 17.06,25.4, 17.12,23.6, 16.9,23.3, 17.02,23.6, 16.84,22.9, 16.92,22.6, 17.03,22.4, 17.14,22.7, 17.19,20.8, 16.86,21.4, 16.93,20.7, 17.02,20.4, 17.1,20.7, 16.88,20.1, 16.97,19.4, 17.12,19.9, 16.86,18.9, 16.96,18.9, 17.14,18.8, 16.84,18.2, 17.1,18.3, 17.18,18.0, 16.93,17.2, 17.08,17.4, 16.99,17.0, 16.86,16.4, 16.94,16.6, 17.06,16.5, 17.16,16.6, 16.92,15.9, 17.12,15.8, 16.96,15.4, 16.84,15.3, 17.05,15.1, 17.15,15.5, 16.93,14.5, 17.12,14.6, 16.84,14.1, 17.03,13.7, 17.14,13.4, 16.91,13.2, 17.0,13.0, 17.18,12.7, 16.86,12.4, 17.08,12.1, 16.94,11.7, 16.84,11.4, 17.14,11.2, 16.92,10.6, 17.08,10.5, 17.14,9.9, 16.9,9.7, 17.03,9.5, 17.1,9.1, 16.93,8.8, 16.88,8.0, 17.12,8.0, 16.96,7.7, 17.06,7.3, 17.16,7.1, 16.87,7.1, 16.94,6.6, 17.02,6.5]

const edu18 = [18.16,47.9, 18.2,46.34, 18.05,45.3, 17.97,41.08, 18.11,40.25, 17.85,39.73, 17.94,34.64, 17.94,34.3, 17.94,34.05, 18.09,34.47, 18.16,33.22, 17.81,32.84, 17.86,32.57, 18.03,32.84, 18.02,32.5, 18.09,32.05, 18.16,32.05, 17.91,31.7, 18.0,31.36, 17.81,31.11, 17.87,31.11, 17.93,30.66, 18.0,30.21, 17.92,30.14, 17.91,29.45, 18.02,29.28, 18.2,29.63, 18.1,28.76, 18.04,28.66, 17.88,27.9, 17.93,27.9, 18.03,27.72, 17.86,27.65, 17.86,27.03, 17.96,27.03,
  17.88,26.0, 17.96,26.18, 18.07,26.18, 18.1,25.66, 17.84,24.97, 18.09,24.38, 17.82,23.76, 17.91,23.59, 17.96,23.07, 18.13,23.07, 17.8,22.62, 17.91,22.72, 18.07,21.86, 17.99,22.03, 17.91,21.44, 17.84,21.34, 18.02,20.82, 17.82,20.75, 18.18,20.54, 17.8,20.2, 17.98,19.68, 17.93,19.09, 18.1,19.16, 18.18,19.16, 17.82,18.67, 17.91,18.57, 17.96,18.22, 18.1,17.63, 17.8,17.7, 18.13,17.0, 17.82,17.18, 17.99,16.67, 17.93,16.15, 18.07,15.63, 17.85,15.45, 17.94,15.35, 18.1,14.6, 18.2,14.66, 17.8,14.24, 17.91,13.97, 18.04,13.72, 17.82,13.38, 18.0,13.2, 17.91,12.86, 17.86,12.93, 18.2,12.93, 18.18,12.17, 18.13,11.72, 17.84,11.58, 17.81,10.78, 17.82,9.74, 17.88,9.68, 18.03,10.09, 18.11,9.99, 18.18,10.2, 18.08,9.05, 17.86,8.6, 17.97,8.36, 18.12,8.36, 17.88,8.01, 17.81,6.98, 18.04,7.5, 18.07,6.98, 18.16,6.98, 17.83,6.46, 17.8,5.49, 17.91,3.07,
  17.87,25.6, 17.93,25.3, 17.89,24.4, 17.94,24.1, 17.86,23.2, 17.98,23.5, 18.12,21.7, 17.96,21.1, 17.87,20.5, 18.06,20.5, 17.94,18.9, 18.03,19.0, 18.08,18.5, 18.04,17.9, 17.92,17.7, 18.06,17.2, 18.0,16.9, 17.87,16.5, 18.04,16.1, 17.9,15.9, 17.84,14.9, 18.08,15.1, 17.95,14.9, 18.02,14.4, 17.84,13.9, 18.12,13.5, 17.94,13.2, 17.98,12.8, 17.86,9.9, 18.0,9.6, 18.06,8.8, 17.92,7.9, 18.05,7.1]

const edu19 = [18.93,47.79, 19.05,39.76, 19.17,39.9, 18.99,38.35, 19.07,38.38, 19.07,38.0, 18.85,37.83, 18.87,35.58, 19.09,34.5, 19.12,34.5, 19.16,32.46, 18.96,30.15, 18.99,30.15, 18.94,28.62, 19.01,28.07, 18.95,27.79, 18.98,27.48, 19.13,27.31, 19.14,26.89,
  18.93,25.94, 18.91,24.97, 19.07,25.66, 19.13,24.97, 19.16,24.45, 18.85,24.0, 18.96,23.59, 18.83,23.0, 18.92,23.0, 19.03,23.0, 19.06,22.27, 19.06,22.1, 18.93,21.51, 18.79,21.16, 18.79,20.54, 18.8,20.7, 18.93,20.82, 19.1,20.54, 19.13,19.71, 19.02,19.26, 18.9,19.26, 18.79,18.91, 18.9,18.57, 18.82,18.12, 19.12,18.4, 19.13,16.91, 18.82,16.67, 19.05,16.49, 18.96,15.97, 19.05,15.7, 18.92,14.94, 18.85,14.87, 18.88,14.9, 19.05,14.07, 18.79,13.48, 18.93,13.62, 18.8,13.03, 18.91,13.03, 19.06,12.96, 19.07,12.06, 19.18,10.78, 19.1,10.54, 19.01,10.44, 18.92,9.92, 19.18,9.92, 18.88,8.64, 19.05,8.88, 19.02,8.36, 19.07,8.26, 19.04,8.4, 19.16,7.5, 19.16,7.15, 18.81,7.5, 18.81,7.15, 18.96,6.98, 18.79,6.46, 18.85,6.46, 18.82,6.9]

const edu20 = [19.85,49.35, 20.0,49.83, 20.17,47.45, 19.88,42.77, 19.95,43.12, 20.0,42.88, 20.19,41.77, 20.08,41.22, 19.98,40.73, 20.13,39.97, 19.82,39.42, 20.05,38.28, 20.0,36.48, 19.86,35.75, 19.92,35.58, 20.02,35.68, 19.97,35.85, 20.13,35.75, 20.13,33.0, 20.2,33.08, 19.88,32.53, 19.99,32.05, 19.92,31.25, 20.03,31.11, 19.81,30.66, 19.86,30.66, 19.96,30.66, 19.91,29.9, 20.07,29.8, 20.17,29.87, 19.88,28.76, 19.81,28.52, 19.99,28.24, 20.02,28.59, 20.18,27.31, 19.89,26.96, 20.07,26.93, 20.13,26.93,
  19.92,26.18, 20.14,25.84, 19.82,25.56, 20.09,25.42, 20.18,24.9, 19.91,24.97, 19.85,24.28, 19.91,24.28, 19.96,24.28, 19.82,23.24, 19.85,23.07, 19.93,23.0, 19.99,23.24, 20.13,23.17, 20.2,22.55, 19.79,22.03, 19.96,22.03, 19.99,21.86, 20.2,21.86, 20.18,21.34, 19.95,21.27, 20.19,20.89, 19.85,20.47, 19.93,20.3, 20.13,20.2, 19.82,19.95, 20.07,19.61, 20.02,19.5, 20.16,19.09, 19.82,19.16, 20.18,19.26, 19.88,18.4, 19.95,18.29, 20.02,18.22, 20.15,17.98, 19.84,16.77, 19.98,16.67, 20.17,16.53, 19.85,16.15, 20.1,15.8, 19.99,15.63, 19.84,15.11, 19.96,15.28, 20.03,15.28, 19.96,13.97, 19.93,13.62, 19.82,12.76, 20.03,12.93, 19.91,12.44, 20.06,11.92, 19.99,11.58, 19.8,11.48, 19.85,9.95, 20.13,10.37, 20.11,9.81, 19.91,7.32, 20.17,6.98, 20.16,6.63, 19.8,3.14, 19.95,3.07]

// group means for the line
const educationLevels = [0,1,2,3,4,5,6,7,8,9,10,11,12,13,14,15,16,17,18,19,20]
const meanWages = [10.1,13.2,8.79,9.59,14.28,15.77,13.66,14.77,14.4,13.7,13.3,13.3,13.6,14.18,14.75,16.3,17.36,20.55,20.3,20.45,23.2]

const xTickValues = [0,5,10,15,20]
const yTickValues = [10,20,30,40,50]

const allPairs = [eduLow,edu8,edu9,edu10,edu11,edu12,edu13,edu14,edu15,edu16,edu17,edu18,edu19,edu20]

let wagePoints = []
allPairs.forEach(function(pairs) {
    for (let i = 0; i < pairs.length; i += 2) {
        wagePoints.push({ x: pairs[i], y: pairs[i + 1] })
    }
})

let meanPoints = educationLevels.map(function(level, i) {
    return { x: level, y: meanWages[i] }
})

const plotBox = {
    id: 'plotBox',
    afterDraw(chart) {
        const a = chart.chartArea
        const ctx = chart.ctx
        ctx.save()
        ctx.strokeStyle = '#000'
        ctx.lineWidth = 1
        ctx.strokeRect(a.left + 0.5, a.top + 0.5, a.right - a.left, a.bottom - a.top)
        ctx.restore()
    }
}

const fontFamily = '"Liberation Sans", Arial, sans-serif'

new Chart(document.getElementById('wagesChart'), {
    type: 'scatter',
    data: {
        datasets: [{
            data: wagePoints,
            pointStyle: 'circle',
            pointRadius: 3.6,
            pointBorderWidth: 1,
            pointBorderColor: '#000',
            pointBackgroundColor: 'rgba(0,0,0,0)'
        }, {
            data: meanPoints,
            showLine: true,
            borderColor: '#000',
            borderWidth: 1,
            pointRadius: 0,
            tension: 0
        }]
    },
    options: {
        responsive: false,
        animation: false,
        devicePixelRatio: 1,
        layout: { padding: { top: 79, right: 41, left: 0, bottom: 0 } },
        plugins: { legend: { display: false }, tooltip: { enabled: false } },
        scales: {
            x: {
                type: 'linear',
                min: -1,
                max: 21,
                afterBuildTicks(scale) { scale.ticks = xTickValues.map(v => ({ value: v })) },
                afterFit(scale) { scale.height = 98 },
                grid: { drawOnChartArea: false, tickLength: 7, tickColor: '#000', tickWidth: 1 },
                border: { display: false },
                ticks: { color: '#000', padding: 15, maxRotation: 0, font: { family: fontFamily, size: 15 } },
                title: { display: true, text: 'jitter(education)', color: '#000', padding: { top: 0, bottom: 20 }, font: { family: fontFamily, size: 16 } }
            },
            y: {
                type: 'linear',
                min: 0.35,
                max: 51.7,
                afterBuildTicks(scale) { scale.ticks = yTickValues.map(v => ({ value: v })) },
                afterFit(scale) { scale.width = 79 },
                grid: { drawOnChartArea: false, tickLength: 7, tickColor: '#000', tickWidth: 1 },
                border: { display: false },
                ticks: { color: '#000', padding: 16, minRotation: -90, maxRotation: -90, crossAlign: 'center', font: { family: fontFamily, size: 15 } },
                title: { display: true, text: 'wages', color: '#000', padding: { top: 5, bottom: 0 }, font: { family: fontFamily, size: 15 } }
            }
        }
    },
    plugins: [plotBox]
})
</script>
</body>
</html>
